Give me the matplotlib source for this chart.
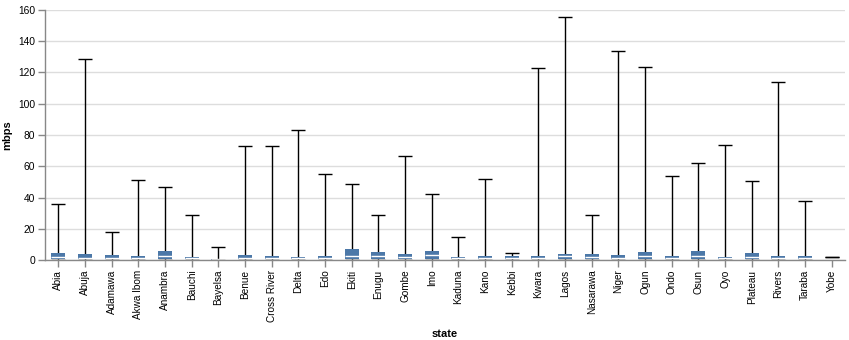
import matplotlib
matplotlib.use("Agg")
import matplotlib.pyplot as plt
import numpy as np

plt.rcParams['font.family'] = ['Liberation Sans', 'DejaVu Sans']

states = ["Abia", "Abuja", "Adamawa", "Akwa Ibom", "Anambra", "Bauchi", "Bayelsa", "Benue",
          "Cross River", "Delta", "Edo", "Ekiti", "Enugu", "Gombe", "Imo", "Kaduna", "Kano",
          "Kebbi", "Kwara", "Lagos", "Nasarawa", "Niger", "Ogun", "Ondo", "Osun", "Oyo",
          "Plateau", "Rivers", "Taraba", "Yobe"]
mins = [0.1, 0.1, 0.1, 0.1, 0.1, 0.1, 0.1, 0.1, 0.1, 0.1, 0.1, 0.1, 0.1, 0.1, 0.1, 0.1, 0.1,
        0.1, 0.1, 0.1, 0.1, 0.1, 0.1, 0.1, 0.1, 0.1, 0.1, 0.1, 0.1, 1.7]
q1 = [0.5, 0.5, 0.5, 0.5, 0.5, 0.4, 0.2, 0.5, 0.5, 0.4, 0.5, 0.6, 0.5, 0.5, 0.6, 0.4, 0.5,
      0.6, 0.5, 0.5, 0.5, 0.5, 0.5, 0.5, 0.6, 0.4, 0.5, 0.5, 0.4, 1.7]
medians = [1.9, 1.6, 1.4, 1.4, 2.6, 1.0, 0.4, 1.3, 1.5, 1.0, 1.3, 2.6, 2.6, 2.1, 3.0, 1.0, 1.5,
           1.5, 1.4, 2.6, 1.9, 1.5, 2.6, 1.4, 2.6, 1.0, 2.1, 1.6, 1.1, 1.7]
q3 = [4.3, 4.1, 3.0, 2.6, 5.5, 2.1, 0.6, 3.2, 2.6, 1.9, 2.6, 6.8, 5.0, 3.8, 6.0, 1.7, 2.6,
      2.6, 2.6, 3.8, 3.8, 3.0, 5.0, 2.6, 6.0, 1.9, 4.7, 2.8, 2.3, 1.7]
maxs = [36, 128.6, 18, 51.2, 46.7, 28.8, 8.4, 73, 73, 83.2, 55, 48.6, 28.8, 66.6, 42.2, 14.7,
        51.8, 4.4, 122.9, 155.5, 28.8, 133.8, 123.5, 53.8, 62, 73.6, 50.6, 113.9, 37.8, 1.7]

W, H = 849, 340
fig = plt.figure(figsize=(W / 100, H / 100), dpi=100)
ax = fig.add_axes([45 / W, (H - 260) / H, 800 / W, 250 / H])

x = np.arange(len(states))
bw = 14 / (800 / len(states))

ax.set_axisbelow(True)
ax.yaxis.grid(True, color='#dddddd', linewidth=1)
ax.xaxis.grid(False)

ax.vlines(x, mins, q1, color='black', linewidth=1, zorder=2)
ax.vlines(x, q3, maxs, color='black', linewidth=1, zorder=2)
ax.bar(x, np.array(q3) - np.array(q1), bottom=q1, width=bw, color='#4c78a8', zorder=3)
ax.hlines(medians, x - bw / 2, x + bw / 2, color='white', linewidth=1, zorder=4)
ax.hlines(mins, x - bw / 2, x + bw / 2, color='black', linewidth=1, zorder=5)
ax.hlines(maxs, x - bw / 2, x + bw / 2, color='black', linewidth=1, zorder=5)

ax.set_xlim(-0.5, len(states) - 0.5)
ax.set_ylim(0, 160)
ax.set_yticks(np.arange(0, 161, 20))
ax.set_xticks(x)
ax.set_xticklabels(states, rotation=90, fontsize=7.2, color='#000000')
ax.tick_params(axis='y', labelsize=7.4, length=5, color='#888888', width=1, pad=2)
ax.tick_params(axis='x', length=5, color='#888888', width=1, pad=2)

for s in ['top', 'right']:
    ax.spines[s].set_visible(False)
for s in ['left', 'bottom']:
    ax.spines[s].set_color('#888888')
    ax.spines[s].set_linewidth(1)

ax.set_xlabel('state', fontsize=8, fontweight='bold')
ax.set_ylabel('mbps', fontsize=8, fontweight='bold')
ax.yaxis.set_label_coords((12 - 45) / 800, 0.5)
ax.xaxis.set_label_coords(0.5, (260 - 329) / 250)

fig.savefig('out.png', dpi=100)
